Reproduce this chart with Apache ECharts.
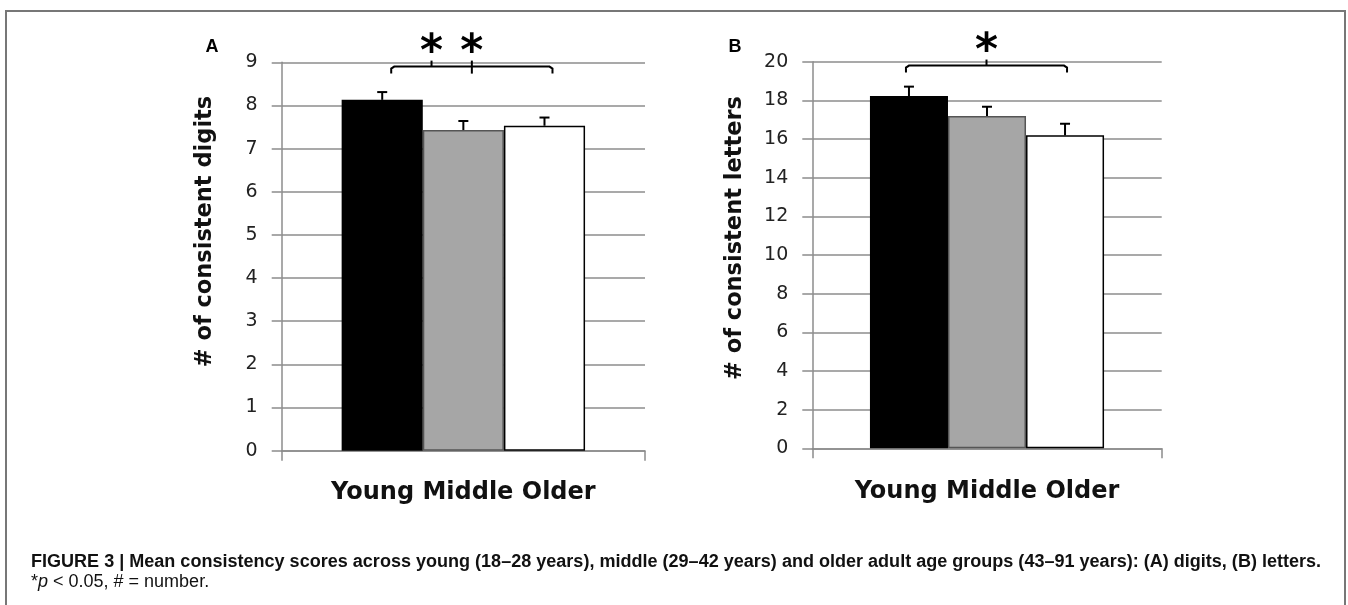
<!DOCTYPE html>
<html><head><meta charset="utf-8">
<script src="https://cdn.jsdelivr.net/npm/echarts@6/dist/echarts.min.js"></script>
<style>html,body{margin:0;padding:0;background:#fff}#c{width:1348px;height:605px}</style>
</head><body><div id="c"></div>
<script>
// ---- data ----
const groups = ['Young', 'Middle', 'Older'];
const digitsMean = [8.13, 7.43, 7.53];
const digitsErr = [0.18, 0.21, 0.19];
const lettersMean = [18.22, 17.19, 16.19];
const lettersErr = [0.49, 0.48, 0.60];
const digitsAxis = { min: 0, max: 9, interval: 1 };
const lettersAxis = { min: 0, max: 20, interval: 2 };
const panelLabels = ['A', 'B'];
const yTitles = ['# of consistent digits', '# of consistent letters'];
// significance brackets: from group, to group, bracket level, mark fractions along bracket
const sigDigits = [{ from: 0, to: 2, level: 8.9, marks: [0.25, 0.5] }];
const sigLetters = [{ from: 0, to: 2, level: 19.8, marks: [0.5] }];
const captionLine1 = 'FIGURE 3 | Mean consistency scores across young (18\u201328 years), middle (29\u201342 years) and older adult age groups (43\u201391 years): (A) digits, (B) letters.';

const barColors = ['#000000', '#a6a6a6', '#ffffff'];
const GAP = 0.33;
const gridColor = '#8c8c8c';
const font = 'DejaVu Sans';

const chart = echarts.init(document.getElementById('c'), null, { renderer: 'canvas' });

function barX(api, catX, idx) {
  const band = api.size([1, 0])[0];
  const bw = band * (1 - GAP) / 3;
  return catX + (idx - 1) * bw;
}

function errSeries(gi, means, errs) {
  return {
    type: 'custom', xAxisIndex: gi, yAxisIndex: gi, z: 5, clip: false,
    data: means.map((m, i) => [0, m, errs[i], i]),
    renderItem: function (params, api) {
      const base = api.coord([api.value(0), api.value(1)]);
      const top = api.coord([api.value(0), api.value(1) + api.value(2)]);
      const x = barX(api, base[0], api.value(3));
      const st = { stroke: '#000', lineWidth: 2 };
      return {
        type: 'group', children: [
          { type: 'line', shape: { x1: x, y1: base[1], x2: x, y2: top[1] }, style: st },
          { type: 'line', shape: { x1: x - 5, y1: top[1], x2: x + 5, y2: top[1] }, style: st }
        ]
      };
    }
  };
}

function sigSeries(gi, sigs) {
  return {
    type: 'custom', xAxisIndex: gi, yAxisIndex: gi, z: 6, clip: false,
    data: sigs.map(s => [0, s.level, s.from, s.to]),
    renderItem: function (params, api) {
      const s = sigs[params.dataIndex];
      const p = api.coord([0, api.value(1)]);
      const x1 = barX(api, p[0], s.from) + (gi === 0 ? 9 : -3);
      const x2 = barX(api, p[0], s.to) + (gi === 0 ? 8 : 2);
      const y = p[1];
      const st = { stroke: '#000', lineWidth: 2, fill: null };
      const ch = [
        { type: 'polyline', shape: { points: [[x1, y + 7], [x1, y + 2], [x1 + 3, y], [x2 - 3, y], [x2, y + 2], [x2, y + 7]] }, style: st }
      ];
      s.marks.forEach((f, k) => {
        const mx = x1 + (x2 - x1) * f;
        const down = (gi === 0 && k === 1) ? 7 : 0;
        ch.push({ type: 'line', shape: { x1: mx, y1: y - 6, x2: mx, y2: y + down }, style: st });
        ch.push({ type: 'text', style: { text: '*', x: mx, y: y - 13, fill: '#000', font: 'bold 44px "DejaVu Sans"', align: 'center', verticalAlign: 'middle' } });
      });
      return { type: 'group', children: ch };
    }
  };
}

function barSeries(gi, means) {
  return means.map((m, i) => ({
    type: 'bar', name: groups[i], xAxisIndex: gi, yAxisIndex: gi,
    data: [m], barGap: '0%', barCategoryGap: (GAP * 100) + '%',
    itemStyle: { color: barColors[i], borderColor: i === 1 ? '#555' : '#000', borderWidth: 1.5 },
    emphasis: { disabled: true }
  }));
}

function xAxis(gi, margin) {
  return {
    type: 'category', gridIndex: gi, data: [groups.join(' ')],
    axisLine: { lineStyle: { color: gridColor, width: 1.5 } },
    axisTick: { show: true, length: 10, lineStyle: { color: gridColor, width: 1.5 } },
    axisLabel: { margin: margin, fontFamily: font, fontWeight: 'bold', fontSize: 24, color: '#111' }
  };
}
function yAxis(gi, ax, title, gap, shift) {
  return {
    type: 'value', gridIndex: gi, min: ax.min, max: ax.max, interval: ax.interval,
    name: title, nameLocation: 'middle', nameGap: gap, nameRotate: 90,
    nameTextStyle: { fontFamily: font, fontWeight: 'bold', fontSize: 22.5, color: '#111', padding: [0, 0, 0, shift] },
    axisLine: { show: true, lineStyle: { color: gridColor, width: 1.5 } },
    axisTick: { show: true, length: 10, lineStyle: { color: gridColor, width: 1.5 } },
    axisLabel: { margin: 24, fontFamily: font, fontSize: 19, color: '#222' },
    splitLine: { lineStyle: { color: gridColor, width: 1.5 } }
  };
}

const option = {
  animation: false,
  backgroundColor: '#fff',
  grid: [
    { left: 281.7, right: 1348 - 645, top: 62.3, bottom: 605 - 450.7 },
    { left: 812.3, right: 1348 - 1161.7, top: 61.7, bottom: 605 - 448.3 }
  ],
  xAxis: [xAxis(0, 30), xAxis(1, 31)],
  yAxis: [yAxis(0, digitsAxis, yTitles[0], 65, 50), yAxis(1, lettersAxis, yTitles[1], 66, 34)],
  series: [].concat(
    barSeries(0, digitsMean), barSeries(1, lettersMean),
    [errSeries(0, digitsMean, digitsErr), errSeries(1, lettersMean, lettersErr),
     sigSeries(0, sigDigits), sigSeries(1, sigLetters)]
  ),
  graphic: [
    { type: 'polyline', shape: { points: [[6, 606], [6, 11], [1345, 11], [1345, 606]] }, style: { stroke: '#777', lineWidth: 2, fill: null } },
    { type: 'text', x: 212, y: 47, style: { text: panelLabels[0], font: 'bold 18px "Liberation Sans"', fill: '#000', align: 'center', verticalAlign: 'middle' } },
    { type: 'text', x: 735, y: 47, style: { text: panelLabels[1], font: 'bold 18px "Liberation Sans"', fill: '#000', align: 'center', verticalAlign: 'middle' } },
    { type: 'text', x: 31, y: 571, scaleX: 1.002, style: { text: captionLine1, font: 'bold 18px "Liberation Sans Narrow", "Liberation Sans"', fill: '#111', verticalAlign: 'bottom' } },
    { type: 'text', x: 31, y: 591, style: {
        text: '{a|*}{i|p}{a| < 0.05, # = number.}', verticalAlign: 'bottom',
        rich: {
          a: { font: '18px "Liberation Sans Narrow", "Liberation Sans"', fill: '#111' },
          i: { font: 'italic 18px "Liberation Sans Narrow", "Liberation Sans"', fill: '#111' }
        } } }
  ]
};
chart.setOption(option);
</script></body></html>
